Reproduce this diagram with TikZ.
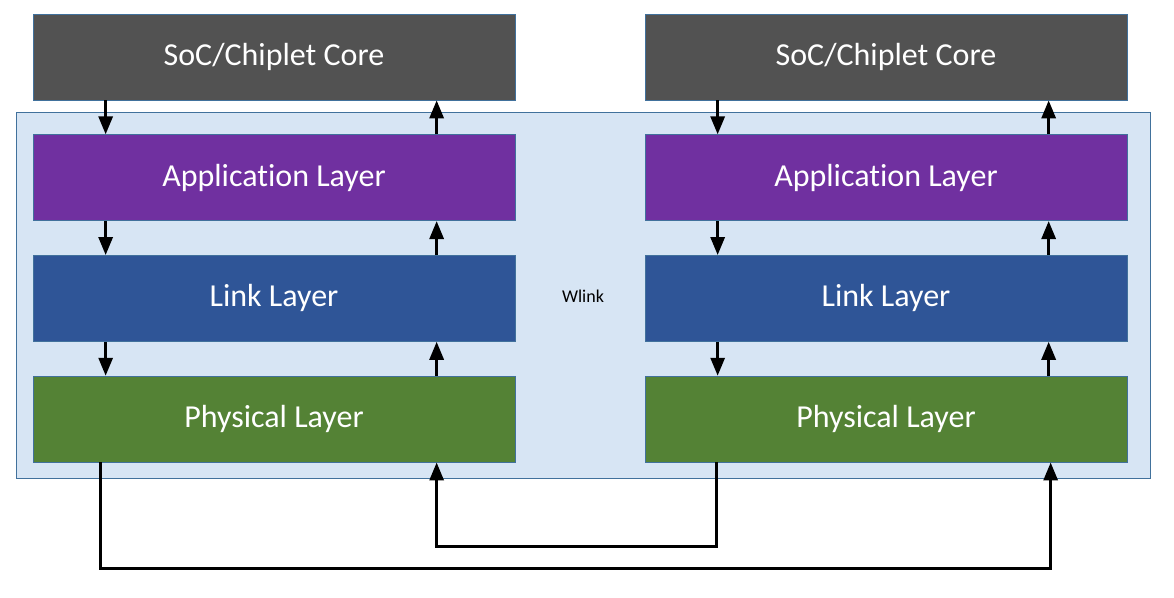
\documentclass[tikz,border=0pt]{standalone}
\usepackage{fontspec}
\setmainfont[Ligatures={NoCommon}]{Carlito}
\usetikzlibrary{positioning,arrows.meta}
\definecolor{socgray}{HTML}{525252}
\definecolor{apppurple}{HTML}{7030A0}
\definecolor{linkblue}{HTML}{2F5597}
\definecolor{phygreen}{HTML}{548235}
\definecolor{wlinkfill}{HTML}{D7E5F4}
\definecolor{edgeblue}{HTML}{41719C}
\tikzset{
	layerbox/.style={draw=edgeblue,line width=0.7pt,text=white,minimum width=482pt,minimum height=86pt,inner sep=0pt,font=\fontsize{32}{38}\selectfont},
	flow/.style={line width=3pt,-{Triangle[width=14pt,length=18pt]}}
}
\begin{document}
\begin{tikzpicture}[x=1pt,y=-1pt]
	\useasboundingbox (0,0) rectangle (1174,597);
	\draw[fill=wlinkfill,draw=edgeblue,line width=0.7pt] (16,112) rectangle (1150,478);
	\node (wlink) at (583,296) {\fontsize{18}{21}\selectfont Wlink};
	% two stacks
	\foreach \s/\x in {l/274,r/886}{
		\node[layerbox,fill=socgray] (soc\s) at (\x,57) {SoC/Chiplet Core};
		\node[layerbox,fill=apppurple,below=34pt of soc\s] (app\s) {Application Layer};
		\node[layerbox,fill=linkblue,below=34pt of app\s] (link\s) {Link Layer};
		\node[layerbox,fill=phygreen,below=34pt of link\s] (phy\s) {Physical Layer};
		\foreach \a/\b in {soc/app,app/link,link/phy}{
			\draw[flow] ([xshift=73pt]\a\s.south west) -- ([xshift=73pt]\b\s.north west);
			\draw[flow] ([xshift=404pt]\b\s.north west) -- ([xshift=404pt]\a\s.south west);
		}
	}
	% links between the physical layers
	\coordinate (busa) at (0,568);
	\coordinate (busb) at (0,546);
	\coordinate (outl) at ([xshift=68pt]phyl.south west);
	\coordinate (inr) at ([xshift=406pt]phyr.south west);
	\coordinate (outr) at ([xshift=72pt]phyr.south west);
	\coordinate (inl) at ([xshift=404pt]phyl.south west);
	\draw[flow] (outl) -- (outl |- busa) -- (inr |- busa) -- (inr);
	\draw[flow] (outr) -- (outr |- busb) -- (inl |- busb) -- (inl);
\end{tikzpicture}
\end{document}
